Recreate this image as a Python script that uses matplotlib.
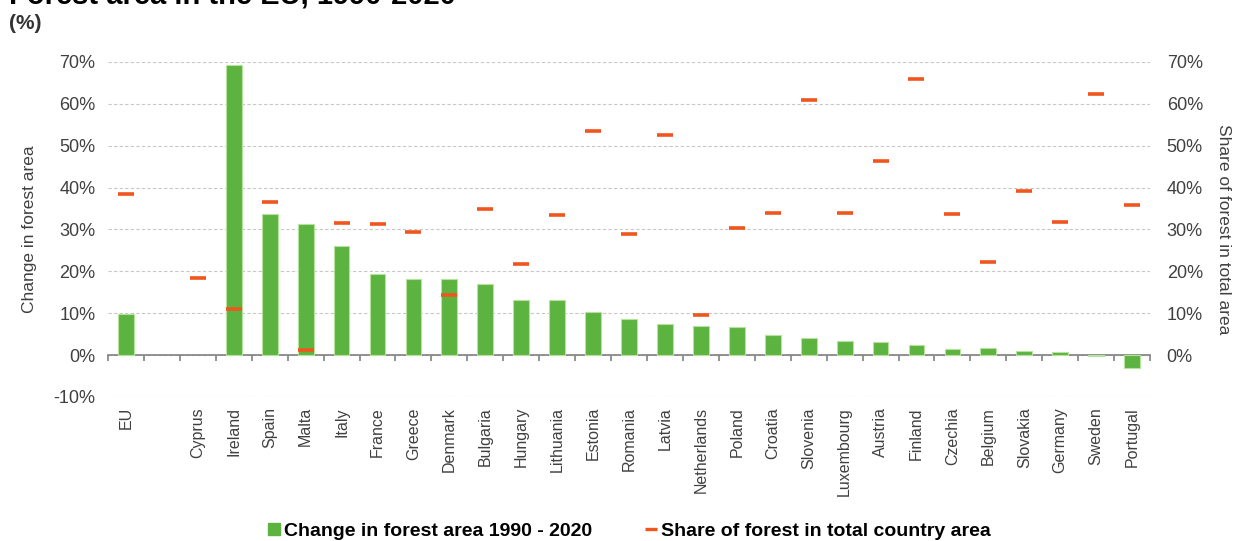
import numpy as np
import matplotlib.pyplot as plt
from matplotlib.lines import Line2D
from matplotlib.transforms import blended_transform_factory

plt.rcParams['font.family'] = ['Liberation Sans', 'DejaVu Sans']

# Data (%)
countries = ['EU', '', 'Cyprus', 'Ireland', 'Spain', 'Malta', 'Italy', 'France',
             'Greece', 'Denmark', 'Bulgaria', 'Hungary', 'Lithuania', 'Estonia',
             'Romania', 'Latvia', 'Netherlands', 'Poland', 'Croatia', 'Slovenia',
             'Luxembourg', 'Austria', 'Finland', 'Czechia', 'Belgium', 'Slovakia',
             'Germany', 'Sweden', 'Portugal']
change_1990_2020 = [9.7, np.nan, np.nan, 69.2, 33.7, 31.3, 26.0, 19.4,
                    18.2, 18.2, 17.0, 13.1, 13.1, 10.4,
                    8.7, 7.5, 7.0, 6.8, 4.8, 4.1,
                    3.3, 3.1, 2.4, 1.5, 1.6, 1.1,
                    0.8, -0.3, -3.0]
forest_share = [38.4, np.nan, 18.4, 11.0, 36.5, 1.3, 31.6, 31.4,
                29.4, 14.4, 35.0, 21.8, 33.5, 53.6,
                28.9, 52.6, 9.6, 30.3, 34.0, 60.9,
                34.0, 46.3, 66.0, 33.8, 22.3, 39.2,
                31.8, 62.4, 35.8]
y_ticks = [-10, 0, 10, 20, 30, 40, 50, 60, 70]

green = '#5db33f'
orange = '#f0551e'
text_col = '#404040'

fig = plt.figure(figsize=(12.39, 5.41), dpi=100)
ax = fig.add_axes([0.0872, 0.2662, 0.8410, 0.6192])

x = np.arange(len(countries))
ax.bar(x, change_1990_2020, width=0.44, color=green, edgecolor='#b5e39e',
       linewidth=0.8, zorder=3)
ax.plot(x, forest_share, linestyle='none', marker='_', markersize=12,
        markeredgewidth=2.6, color=orange, zorder=4)

ax.set_xlim(-0.5, len(countries) - 0.5)
ax.set_ylim(-10, 70)
ax.set_yticks(y_ticks)
ax.set_yticklabels([f'{t}%' for t in y_ticks], fontsize=13, color=text_col)
ax.yaxis.grid(True, linestyle=(0, (3, 2)), color='#c8c8c8', linewidth=0.8)
ax.set_axisbelow(True)
ax.tick_params(axis='y', length=0, pad=9)

for side in ['top', 'right', 'left']:
    ax.spines[side].set_visible(False)
ax.spines['bottom'].set_position(('data', 0))
ax.spines['bottom'].set_color('#808080')
ax.spines['bottom'].set_linewidth(1.2)
ax.set_xticks(np.arange(len(countries) + 1) - 0.5)
ax.tick_params(axis='x', length=4, width=1.2, color='#808080', labelbottom=False)

# category labels below the plot area
trans = blended_transform_factory(ax.transData, ax.transAxes)
for xi, name in zip(x, countries):
    ax.text(xi, -0.03, name, transform=trans, rotation=90, ha='center', va='top',
            fontsize=11.5, color=text_col)

ax.set_ylabel('Change in forest area', fontsize=12.5, color=text_col, labelpad=12)

# secondary axis (same scale) on the right
ax2 = ax.twinx()
ax2.set_ylim(-10, 70)
ax2.set_yticks(y_ticks[1:])
ax2.set_yticklabels([f'{t}%' for t in y_ticks[1:]], fontsize=13, color=text_col)
ax2.tick_params(axis='y', length=0, pad=12)
for side in ['top', 'right', 'left', 'bottom']:
    ax2.spines[side].set_visible(False)
ax2.set_ylabel('Share of forest in total area', fontsize=12.5, color=text_col,
               rotation=270, labelpad=20)

# title (partly cut at the top, as in the reference) and unit
fig.text(0.007, 0.994, 'Forest area in the EU, 1990-2020', fontsize=21,
         fontweight='bold', ha='left', va='baseline')
fig.text(0.007, 0.956, '(%)', fontsize=15, fontweight='bold', ha='left',
         va='center', color='#333333')

handles = [Line2D([], [], linestyle='none', marker='s', markersize=8, color=green),
           Line2D([], [], linestyle='none', marker='_', markersize=9,
                  markeredgewidth=2.4, color=orange)]
fig.legend(handles, ['Change in forest area 1990 - 2020',
                     'Share of forest in total country area'],
           loc='center', bbox_to_anchor=(0.507, 0.018), ncol=2, frameon=False,
           prop={'weight': 'bold', 'size': 14}, handletextpad=0.05,
           handlelength=0.9, columnspacing=2.6)

fig.savefig('out.png', dpi=100)
